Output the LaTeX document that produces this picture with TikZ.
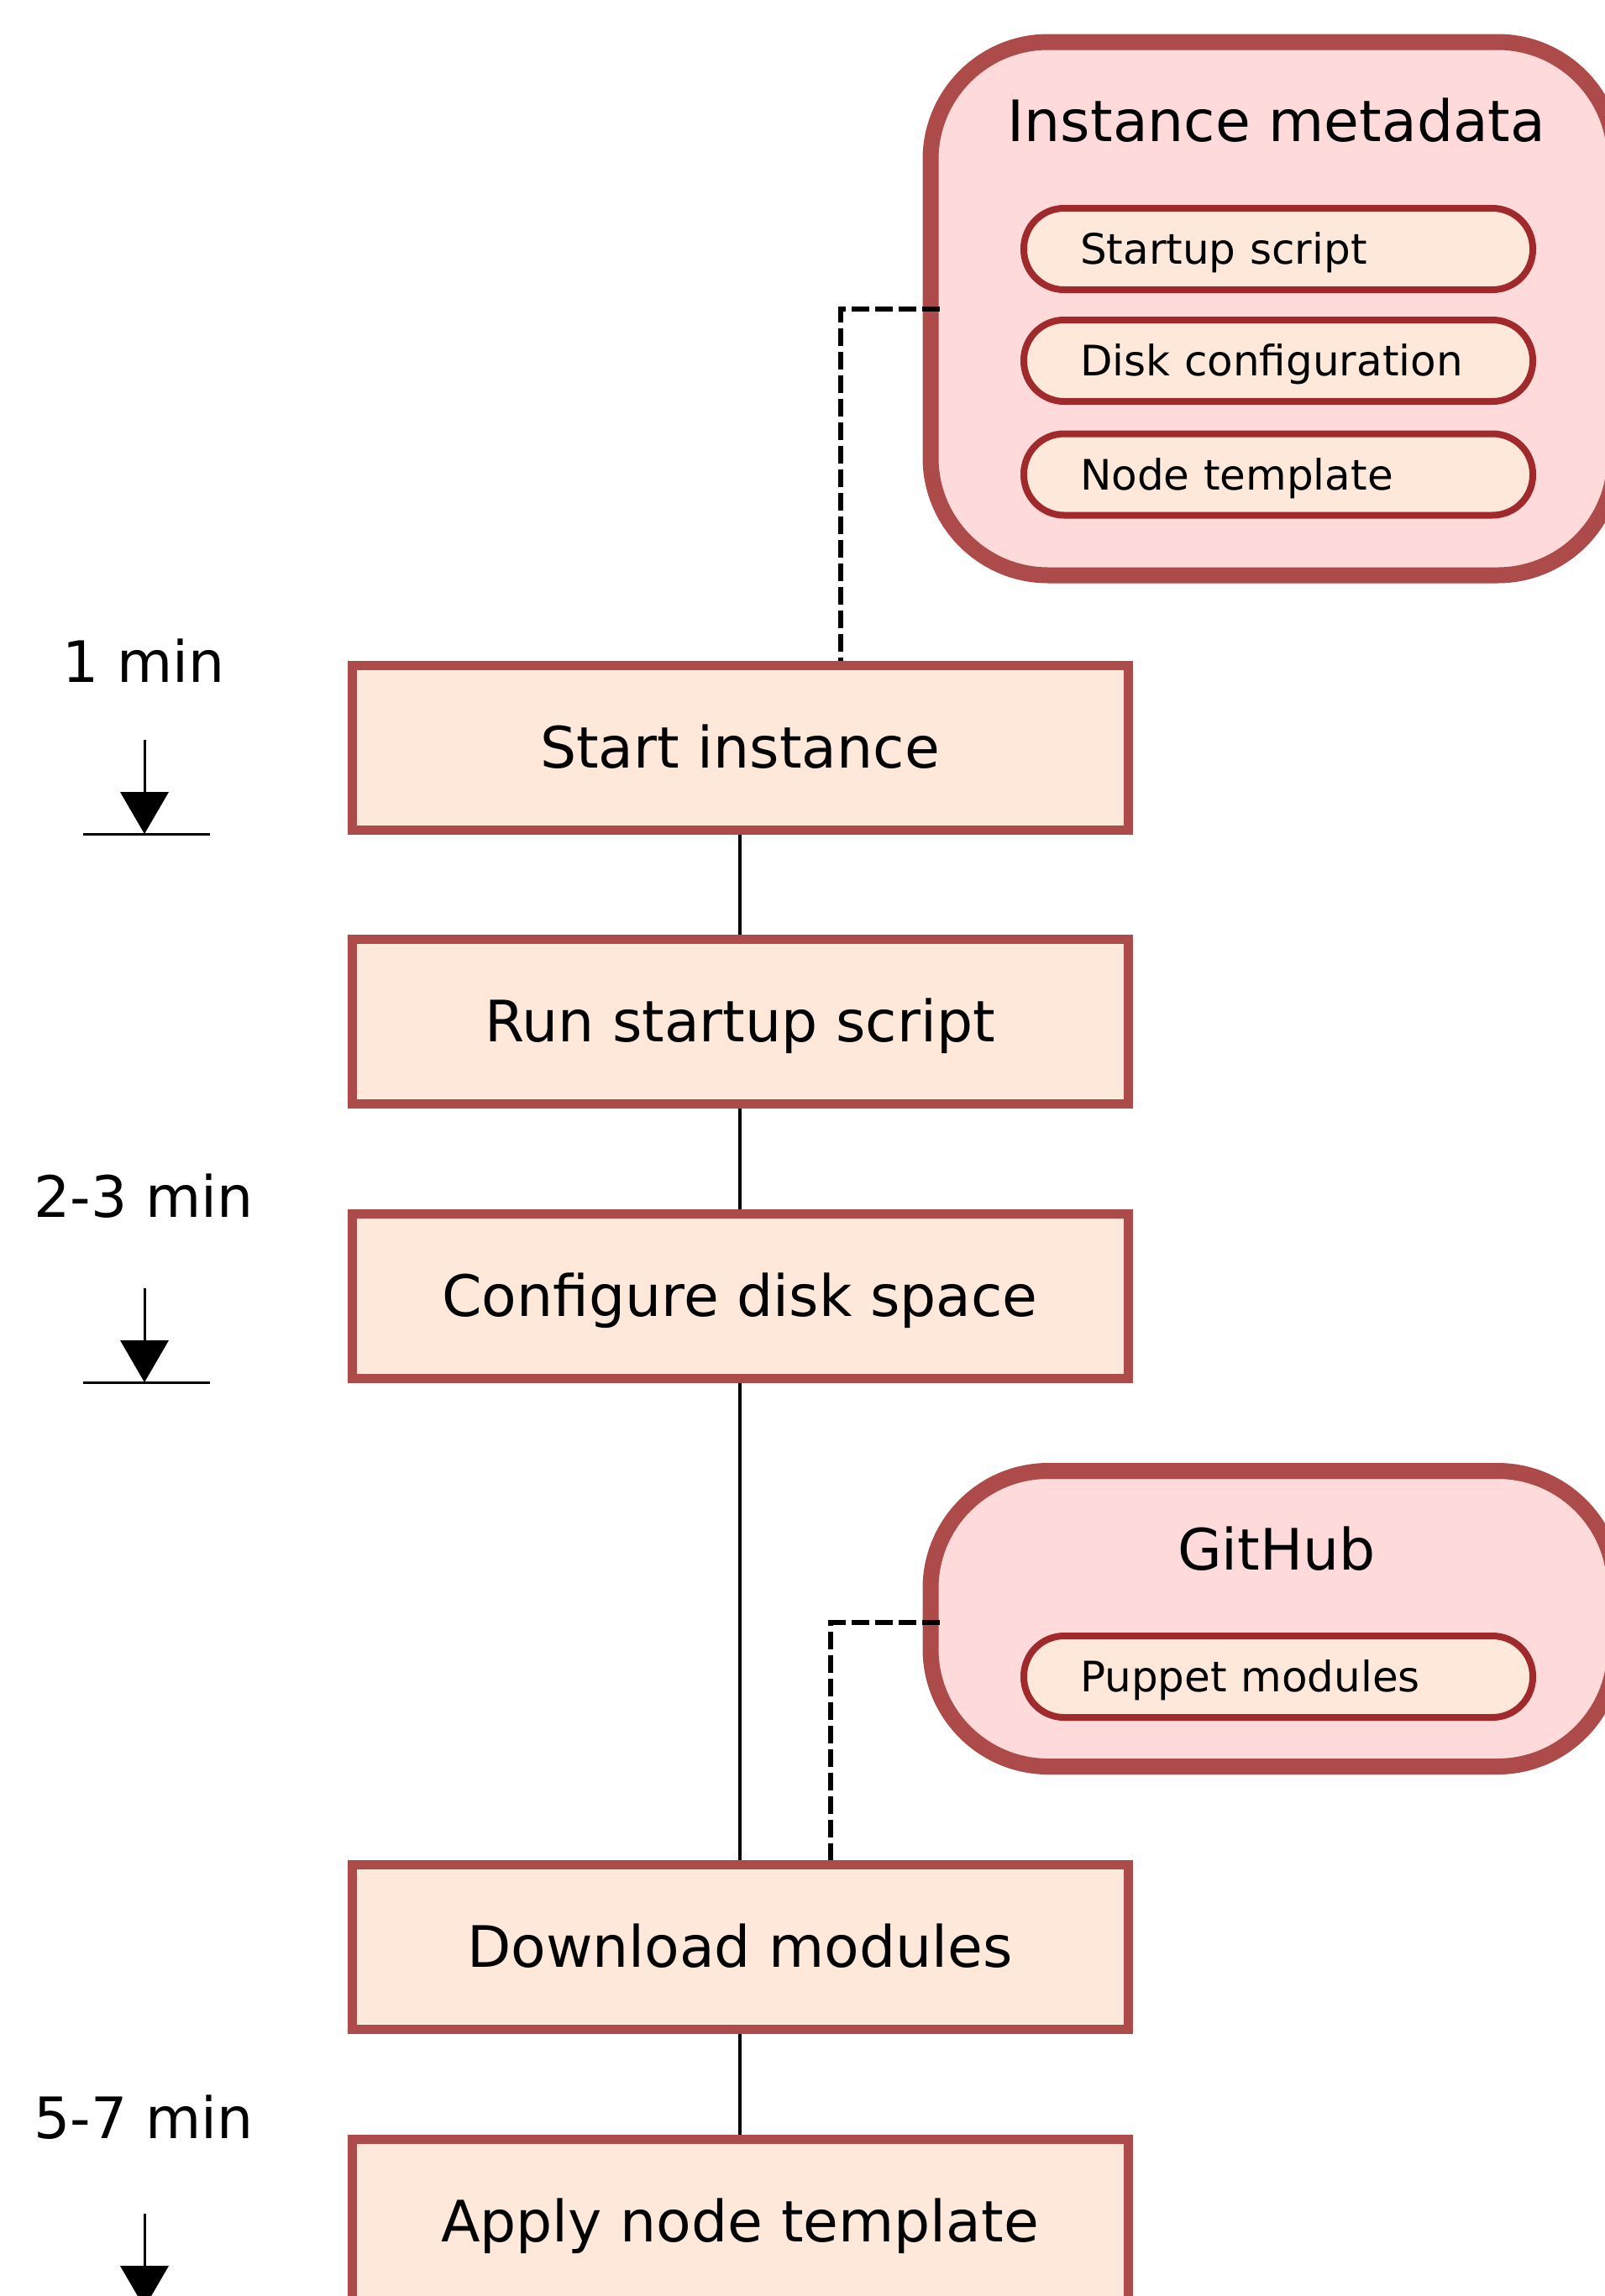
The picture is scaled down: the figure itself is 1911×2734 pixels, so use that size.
\documentclass[tikz,border=0pt]{standalone}
\usepackage{fontspec}
\setmainfont{DejaVu Sans}
\definecolor{boxfill}{HTML}{FEE8DA}
\definecolor{boxdraw}{HTML}{AD4B4B}
\definecolor{clfill}{HTML}{FEDADA}
\definecolor{pilldraw}{HTML}{A0292B}
\tikzset{
  bigfont/.style={font=\fontsize{68}{80}\selectfont, text height=49.6pt, text depth=0pt},
  smallfont/.style={font=\fontsize{50}{60}\selectfont, text height=36.5pt, text depth=0pt},
  stepbox/.style={draw=boxdraw, fill=boxfill, line width=11pt, minimum width=924pt, minimum height=196pt, inner sep=0pt, bigfont},
  cluster/.style={draw=boxdraw, fill=clfill, line width=19pt, rounded corners=140pt, minimum width=815pt, inner sep=0pt},
  cltitle/.style={bigfont, inner sep=0pt},
  pill/.style={draw=pilldraw, fill=boxfill, line width=8pt, rounded corners=48pt, minimum height=97pt, inner xsep=67pt, inner ysep=0pt, text width=472pt, align=left, smallfont},
  link/.style={line width=4.5pt, black},
  dlink/.style={line width=6pt, black, dash pattern=on 21pt off 7pt},
  timelabel/.style={bigfont, inner sep=0pt},
  tline/.style={line width=3pt, black}
}
\begin{document}
\begin{tikzpicture}[x=1pt,y=-1pt]
\useasboundingbox (0,0) rectangle (1911,2734);
\clip (0,0) rectangle (1911,2734);
\fill[white] (0,0) rectangle (1911,2734);

% clusters
\node[cluster, minimum height=635pt] (cl1) at (1515.5,367.5) {};
\node[cltitle] (cl1t) at (1520,144) {Instance metadata};
\node[pill] (p1) at (1522,296.5) {Startup script};
\node[pill] (p2) at (1522,429.5) {Disk configuration};
\node[pill] (p3) at (1522,565) {Node template};

\node[cluster, minimum height=352pt] (cl2) at (1515.5,1927.5) {};
\node[cltitle] (cl2t) at (1520,1845) {GitHub};
\node[pill] (p4) at (1522,1996.5) {Puppet modules};

% steps
\node[stepbox] (b1) at (881,890) {Start instance};
\node[stepbox] (b2) at (881,1216) {Run startup script};
\node[stepbox] (b3) at (881,1543) {Configure disk space};
\node[stepbox] (b4) at (881,2318) {Download modules};
\node[stepbox] (b5) at (881,2645) {Apply node template};

\draw[link] (b1.south) -- (b2.north);
\draw[link] (b2.south) -- (b3.north);
\draw[link] (b3.south) -- (b4.north);
\draw[link] (b4.south) -- (b5.north);

\coordinate (d1) at (1001,368);
\draw[dlink] ([xshift=20pt]cl1.west |- d1) -- (d1) -- (d1 |- b1.north);
\coordinate (d2) at (989,1932);
\draw[dlink] ([xshift=20pt]cl2.west |- d2) -- (d2) -- (d2 |- b4.north);

% timeline
\node[timelabel] (t1) at (171,788) {1 min};
\node[timelabel] (t2) at (171,1425) {2-3 min};
\node[timelabel] (t3) at (171,2522) {5-7 min};

\foreach \top in {881,1534,2636}{
  \draw[tline] (172,\top) -- (172,\top+62);
  \fill[black] (143,\top+62) -- (201,\top+62) -- (172,\top+112) -- cycle;
  \draw[tline] (99,\top+112) -- (250,\top+112);
}
\end{tikzpicture}
\end{document}
